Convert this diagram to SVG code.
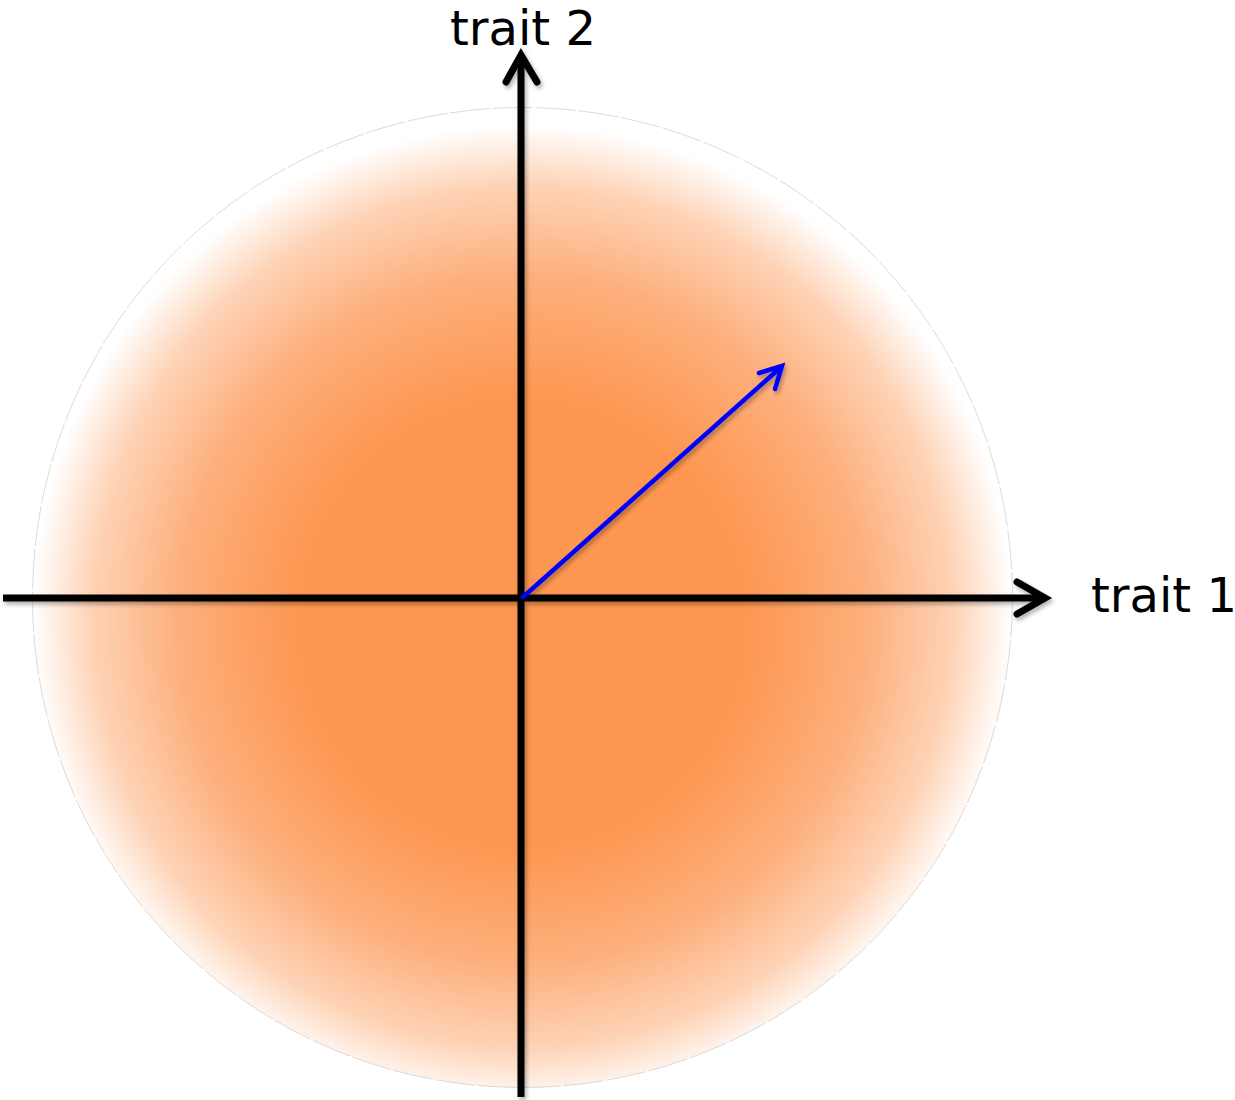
<svg xmlns="http://www.w3.org/2000/svg" width="1235" height="1100" viewBox="0 0 1235 1100">
<style>
.axis{stroke:#000;stroke-width:7;fill:none;stroke-linecap:butt}
.head{stroke:#000;stroke-width:7;fill:none;stroke-linecap:round;stroke-linejoin:miter}
.vec{stroke:#0000FF;stroke-width:4.5;fill:none;stroke-linecap:round;stroke-linejoin:miter}
.lbl{font-family:"DejaVu Sans",Verdana,sans-serif;font-size:48px;fill:#000}
</style>
<defs>
<radialGradient id="blob" cx="522.5" cy="615" r="490" fx="522.5" fy="630" gradientUnits="userSpaceOnUse">
<stop offset="0" stop-color="#FD9650"/>
<stop offset="0.45" stop-color="#FD9650"/>
<stop offset="0.7" stop-color="#FDAF7C"/>
<stop offset="0.88" stop-color="#FED3B6"/>
<stop offset="1" stop-color="#FFFFFF"/>
</radialGradient>
<filter id="sh" x="-5%" y="-5%" width="110%" height="110%">
<feDropShadow dx="2" dy="3" stdDeviation="2" flood-color="#000" flood-opacity="0.3"/>
</filter>
</defs>
<g id="distribution">
<circle cx="522.5" cy="597.5" r="490" fill="url(#blob)" stroke="#d0d0d0" stroke-width="0.8" stroke-dasharray="40 3"/>
</g>
<g id="connectors" filter="url(#sh)">
<g id="axis-x">
<line class="axis" x1="3" y1="598" x2="1042" y2="598"/>
<polyline class="head" points="1017,582 1045,598 1017,614"/>
</g>
<g id="axis-y">
<line class="axis" x1="521" y1="1097" x2="521" y2="57"/>
<polyline class="head" points="506,82 521,55 537,82"/>
</g>
<g id="vector">
<line class="vec" x1="523" y1="597" x2="780" y2="368"/>
<polyline class="vec" points="759,373 782,366 775,389"/>
</g>
</g>
<g id="label-trait2"><text class="lbl" x="450" y="45">trait 2</text></g>
<g id="label-trait1"><text class="lbl" x="1091" y="612">trait 1</text></g>
</svg>
